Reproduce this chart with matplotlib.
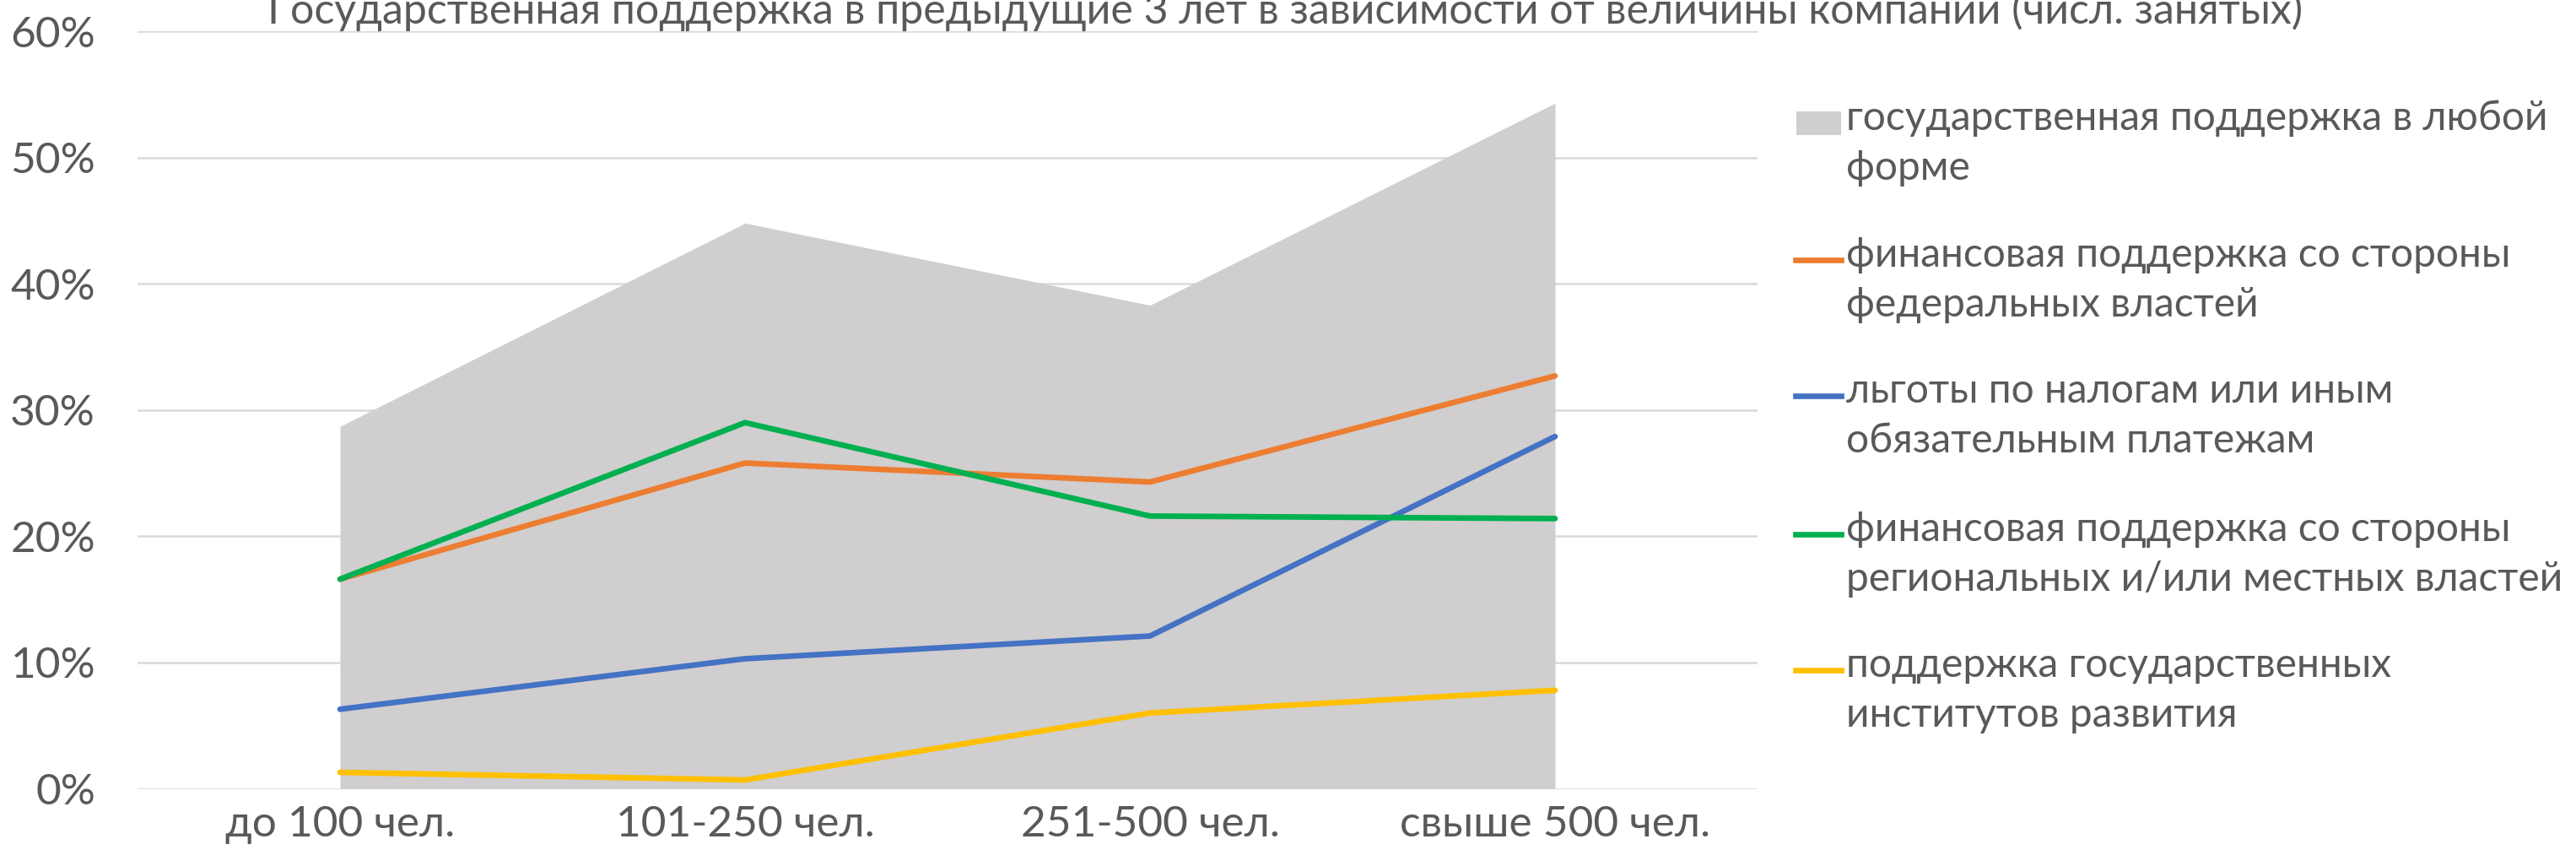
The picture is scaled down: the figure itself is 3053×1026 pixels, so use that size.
import matplotlib.pyplot as plt
from matplotlib.lines import Line2D
from matplotlib.patches import Rectangle

plt.rcParams["font.family"] = ["Lato", "DejaVu Sans"]

# data (shares of companies, %)
categories = ["до 100 чел.", "101-250 чел.", "251-500 чел.", "свыше 500 чел."]
any_support = [28.7, 44.8, 38.3, 54.3]
federal = [16.6, 25.8, 24.3, 32.7]
tax_benefits = [6.3, 10.3, 12.1, 27.9]
regional = [16.6, 29.0, 21.6, 21.4]
dev_institutes = [1.3, 0.7, 6.0, 7.8]

labels = [
    "государственная поддержка в любой\nформе",
    "финансовая поддержка со стороны\nфедеральных властей",
    "льготы по налогам или иным\nобязательным платежам",
    "финансовая поддержка со стороны\nрегиональных и/или местных властей",
    "поддержка государственных\nинститутов развития",
]
title = "Государственная поддержка в предыдущие 3 лет в зависимости от величины компании (числ. занятых)"

text_col = "#595959"
gray = "#D0CECE"
line_cols = ["#ED7D31", "#4472C4", "#00B050", "#FFC000"]

W, H = 3053, 1026
fig = plt.figure(figsize=(W / 100, H / 100), dpi=100)
ax = fig.add_axes([163 / W, 1 - 934.5 / H, (2083 - 163) / W, (934.5 - 37) / H])

x = list(range(len(categories)))
ax.fill_between(x, 0, any_support, color=gray, linewidth=0, zorder=2)
for vals, c in zip([federal, tax_benefits, regional, dev_institutes], line_cols):
    ax.plot(x, vals, color=c, lw=4.8, solid_capstyle="round", zorder=3)

ax.set_xlim(-0.5, 3.5)
ax.set_ylim(0, 60)
ax.set_yticks(range(0, 61, 10))
ax.set_yticklabels([f"{v}%" for v in range(0, 61, 10)])
ax.set_xticks(x)
ax.set_xticklabels(categories)
ax.grid(axis="y", color="#D9D9D9", lw=1.8, zorder=0)
ax.set_axisbelow(True)
for s in ax.spines.values():
    s.set_visible(False)
ax.tick_params(axis="both", length=0, labelsize=37, colors=text_col)
ax.tick_params(axis="y", pad=36)
ax.tick_params(axis="x", pad=14)

fig.text(1523 / W, 1 - 28 / H, title, ha="center", va="baseline",
         fontsize=36, color=text_col)

# legend, drawn by hand so the key sits on the first text line
rows = [146, 308, 469, 633, 794]
for i, (lab, yy) in enumerate(zip(labels, rows)):
    yf = 1 - yy / H
    if i == 0:
        fig.add_artist(Rectangle((2129 / W, yf - 14 / H), 53 / W, 28 / H,
                                 transform=fig.transFigure, color=gray, lw=0))
    else:
        fig.add_artist(Line2D([2128 / W, 2182 / W], [yf, yf], transform=fig.transFigure,
                              color=line_cols[i - 1], lw=4.8))
    fig.text(2188 / W, yf + 28 / H, lab, ha="left", va="top", fontsize=34.5,
             color=text_col, linespacing=1.42)

fig.savefig("out.png", dpi=100)
